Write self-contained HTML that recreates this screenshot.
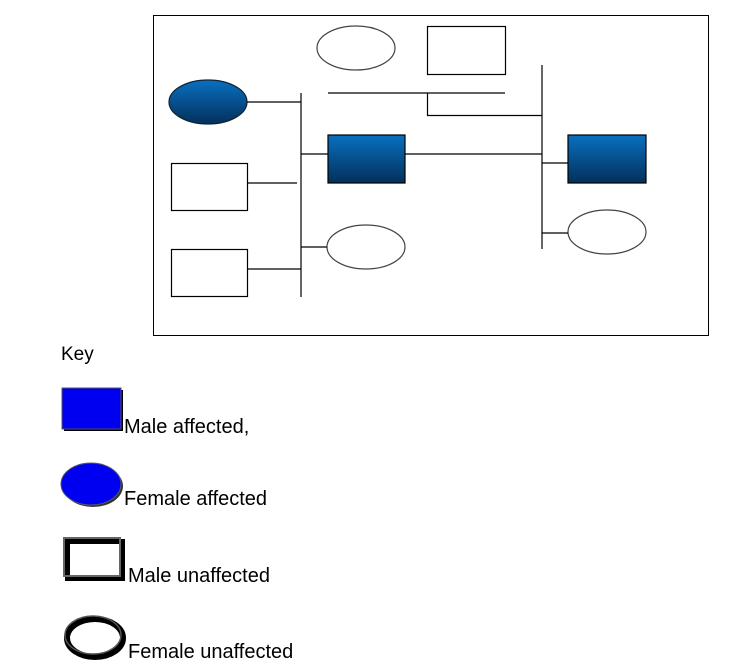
<!DOCTYPE html>
<html><head><style>body{margin:0;background:#fff}svg{display:block}</style></head><body>
<svg width="735" height="671" xmlns="http://www.w3.org/2000/svg" font-family="Liberation Sans, sans-serif">
<defs>
<linearGradient id="g" x1="0" y1="0" x2="0" y2="1"><stop offset="0" stop-color="#0870c0"/><stop offset="1" stop-color="#04305a"/></linearGradient>
</defs>
<rect x="153.5" y="15.5" width="555" height="320" fill="#fff" stroke="#000"/>
<g stroke="#000" stroke-width="1.2" fill="none">
<ellipse cx="356" cy="48" rx="39" ry="22" stroke="#444"/>
<rect x="427.5" y="26.5" width="78" height="48"/>
<ellipse cx="208" cy="102" rx="39" ry="22" fill="url(#g)" stroke="#123"/>
<line x1="247" y1="102" x2="301" y2="102"/>
<line x1="301" y1="93" x2="301" y2="297"/>
<line x1="328" y1="93" x2="505" y2="93"/>
<polyline points="427.5,93 427.5,115.5 542,115.5"/>
<line x1="542" y1="65" x2="542" y2="249"/>
<rect x="328" y="135" width="77" height="48" fill="url(#g)" stroke="#000"/>
<line x1="301" y1="154" x2="328" y2="154"/>
<line x1="405" y1="154" x2="542" y2="154"/>
<rect x="568" y="135" width="78" height="48" fill="url(#g)" stroke="#000"/>
<line x1="542" y1="163" x2="568" y2="163"/>
<ellipse cx="607" cy="232" rx="39" ry="22" stroke="#444"/>
<line x1="542" y1="233" x2="568" y2="233"/>
<rect x="171.5" y="163.5" width="76" height="47"/>
<line x1="247" y1="183" x2="297" y2="183"/>
<ellipse cx="366" cy="247" rx="39" ry="22" stroke="#444"/>
<line x1="301" y1="247" x2="327" y2="247"/>
<rect x="171.5" y="249.5" width="76" height="47"/>
<line x1="247" y1="269" x2="301" y2="269"/>
</g>
<text x="61" y="360" font-size="19">Key</text>
<rect x="64" y="390" width="59" height="41" fill="#000"/>
<rect x="62" y="388" width="59" height="41" fill="#0000f0" stroke="#556" stroke-width="1"/>
<text x="124" y="433" font-size="20">Male affected,</text>
<ellipse cx="93" cy="486" rx="30" ry="21" fill="#333"/>
<ellipse cx="91" cy="484" rx="30" ry="21" fill="#0000f0" stroke="#556"/>
<text x="124" y="505" font-size="20">Female affected</text>
<rect x="67.5" y="541.5" width="55" height="37" fill="none" stroke="#000" stroke-width="5"/>
<rect x="64" y="538" width="56" height="38" fill="none" stroke="#666" stroke-width="2"/>
<text x="128" y="582" font-size="20">Male unaffected</text>
<ellipse cx="95" cy="638" rx="28" ry="19" fill="none" stroke="#000" stroke-width="6"/>
<ellipse cx="93" cy="635" rx="28" ry="19" fill="none" stroke="#555" stroke-width="1.5"/>
<text x="128" y="658" font-size="20">Female unaffected</text>
</svg>
</body></html>
